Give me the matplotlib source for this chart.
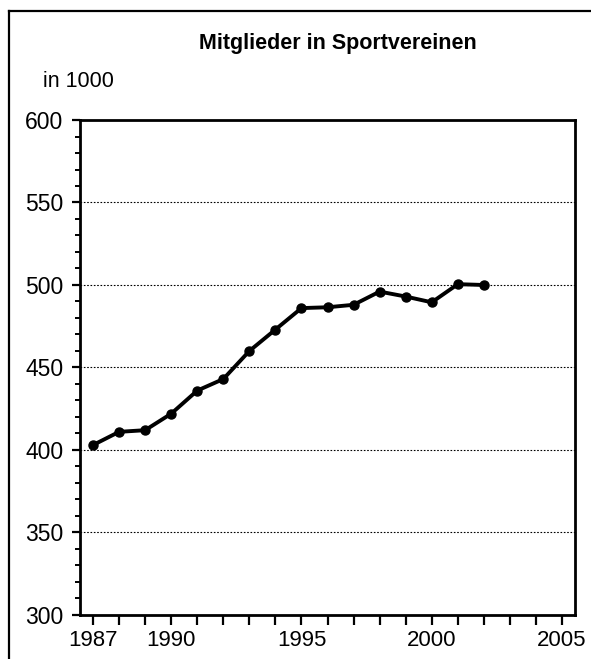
import matplotlib
matplotlib.use("Agg")
import matplotlib.pyplot as plt
from matplotlib.lines import Line2D
from matplotlib.ticker import MultipleLocator

plt.rcParams['font.family'] = ['Liberation Sans', 'DejaVu Sans']

# ---- data (in 1000) ----
years = [1987, 1988, 1989, 1990, 1991, 1992, 1993, 1994,
         1995, 1996, 1997, 1998, 1999, 2000, 2001, 2002]
members = [403, 411, 412, 422, 436, 443, 460, 473,
           486, 486.5, 488, 496, 493, 489.5, 500.5, 500]
xtick_years = list(range(1987, 2006))
xtick_labels = ["1987" if y == 1987 else str(y) if y % 5 == 0 else "" for y in xtick_years]
ytick_values = [300, 350, 400, 450, 500, 550, 600]

TITLE = "Mitglieder in Sportvereinen"
UNIT = "in 1000"

# ---- figure ----
fig = plt.figure(figsize=(5.91, 6.59), dpi=100)
ax = fig.add_axes([0.1354, 0.0668, 0.8376, 0.7511])

ax.plot(years, members, color="black", lw=2.8, marker="o", markersize=6.5, zorder=3)

ax.set_xlim(1986.5, 2005.5)
ax.set_ylim(300, 600)

ax.set_xticks(xtick_years)
ax.set_xticklabels(xtick_labels)
ax.set_yticks(ytick_values)
ax.yaxis.set_minor_locator(MultipleLocator(10))

ax.tick_params(axis="x", direction="out", length=7, width=1.6, labelsize=16, pad=4)
ax.tick_params(axis="y", which="major", direction="out", length=6, width=1.6, labelsize=16.5, pad=6)
ax.tick_params(axis="y", which="minor", direction="out", length=3.5, width=1.4)

for sp in ax.spines.values():
    sp.set_linewidth(2.0)

# dotted grid only for the inner lines
for v in ytick_values[1:-1]:
    ax.axhline(v, color="black", lw=0.8, ls=(0, (1.5, 1.5)), zorder=1)

fig.text(0.572, 0.9256, TITLE, ha="center", va="baseline", fontsize=15.5, fontweight="bold")
fig.text(0.073, 0.868, UNIT, ha="left", va="baseline", fontsize=15.5)

# outer frame (left and top only, the rest is cut off)
fig.add_artist(Line2D([0.0152, 0.0152], [0.0, 0.984], transform=fig.transFigure, color="black", lw=1.6))
fig.add_artist(Line2D([0.0152, 1.0], [0.984, 0.984], transform=fig.transFigure, color="black", lw=1.6))

fig.savefig("out.png", dpi=100)
